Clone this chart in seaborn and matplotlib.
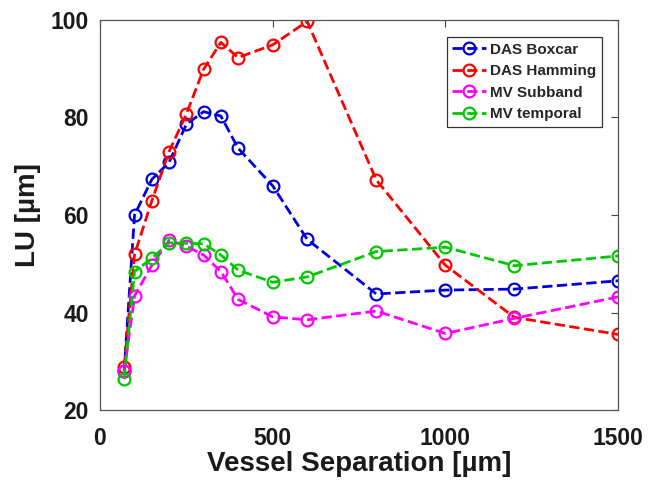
import matplotlib
matplotlib.use("Agg")
import matplotlib.pyplot as plt
import seaborn as sns
import pandas as pd

separation = [70, 100, 150, 200, 250, 300, 350, 400, 500, 600, 800, 1000, 1200, 1500]
das_boxcar = [28.0, 60.0, 67.3, 70.8, 78.6, 81.2, 80.3, 73.7, 66.0, 55.0, 43.8, 44.6, 44.8, 46.5]
das_hamming = [28.9, 51.9, 62.9, 73.0, 80.7, 89.9, 95.4, 92.3, 94.9, 99.7, 67.2, 49.7, 39.0, 35.5]
mv_subband = [27.9, 43.4, 49.7, 54.8, 53.6, 51.8, 48.4, 42.7, 39.1, 38.5, 40.3, 35.7, 38.8, 43.2]
mv_temporal = [26.3, 48.4, 51.1, 54.3, 54.2, 54.1, 51.8, 48.7, 46.2, 47.3, 52.5, 53.4, 49.6, 51.6]

series_names = ["DAS Boxcar", "DAS Hamming", "MV Subband", "MV temporal"]
series_values = [das_boxcar, das_hamming, mv_subband, mv_temporal]
colors = ["#0000dd", "#ff0000", "#ff00ff", "#00c800"]

sns.set_theme(style="white")
plt.rcParams["font.family"] = ["Liberation Sans", "DejaVu Sans"]
plt.rcParams["font.weight"] = "bold"

fig = plt.figure(figsize=(6.6, 4.88), dpi=100)
ax = fig.add_axes([100 / 660, 1 - 410 / 488, 518 / 660, 390 / 488])

for name, vals, c in zip(series_names, series_values, colors):
    df = pd.DataFrame({"x": separation, "y": vals})
    sns.lineplot(data=df, x="x", y="y", ax=ax, color=c, label=name,
                 marker="o", markersize=8.5, markerfacecolor="none",
                 markeredgecolor=c, markeredgewidth=1.6,
                 linestyle="--", linewidth=2, errorbar=None)

ax.set_xlim(0, 1500)
ax.set_ylim(20, 100)
ax.set_xticks([0, 500, 1000, 1500])
ax.set_yticks([20, 40, 60, 80, 100])
ax.set_xlabel("Vessel Separation [µm]", fontsize=20, fontweight="bold", color="#1a1a1a", labelpad=1)
ax.set_ylabel("LU [µm]", fontsize=20, fontweight="bold", color="#1a1a1a", labelpad=7)
ax.tick_params(axis="both", direction="in", length=5, width=0.8, color="#444444",
               labelsize=16.5, labelcolor="#1a1a1a", top=True, right=True)
ax.tick_params(axis="x", pad=12)
ax.tick_params(axis="y", pad=8)
for lab in ax.get_xticklabels() + ax.get_yticklabels():
    lab.set_fontweight("bold")
for sp in ax.spines.values():
    sp.set_color("#555555")
    sp.set_linewidth(0.9)

leg = ax.legend(loc="upper right", bbox_to_anchor=(0.969, 0.956), borderaxespad=0,
                fancybox=False, frameon=True, edgecolor="#333333", framealpha=1,
                prop={"weight": "bold", "size": 11}, handlelength=2.2,
                handletextpad=0.3, labelspacing=0.5, borderpad=0.35)
leg.get_frame().set_linewidth(0.9)

fig.savefig("out.png", dpi=100)
